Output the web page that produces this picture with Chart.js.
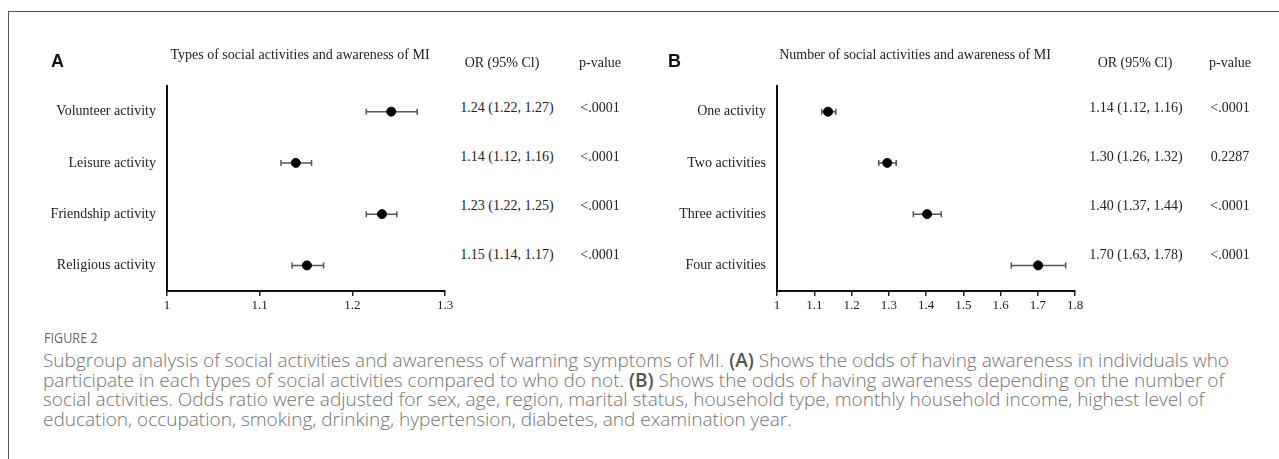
<!DOCTYPE html>
<html>
<head>
<meta charset="utf-8">
<script src="https://cdn.jsdelivr.net/npm/chart.js@4"></script>
<style>
  body { margin: 0; background: #fff; width: 1279px; height: 459px; overflow: hidden; position: relative; }
  .frame { position: absolute; left: 8px; top: 11px; width: 1300px; height: 500px;
           border-top: 1.5px solid #555; border-left: 1.5px solid #555; }
  canvas { position: absolute; }
  .txt { position: absolute; font-family: "Liberation Serif", "Times New Roman", serif; font-size: 14px;
         color: #222; white-space: nowrap; transform: translate(-50%, -50%); }
  .panel { position: absolute; font-family: "Liberation Sans", Arial, sans-serif; font-weight: bold;
           font-size: 18px; color: #111; transform: translateY(-50%); }
  .figlab { position: absolute; left: 44px; top: 328px; font-family: "Open Sans", sans-serif; font-size: 14px;
            color: #666; transform: scaleX(0.9); transform-origin: left; }
  .caption { position: absolute; left: 43px; top: 351px; font-family: "Open Sans", sans-serif; font-size: 19px;
             font-weight: 300; line-height: 19.5px; color: #737373; white-space: nowrap; }
  .caption b { color: #555; font-weight: 600; }
</style>
</head>
<body>
<div class="frame"></div>
<canvas id="chartA"></canvas>
<canvas id="chartB"></canvas>
<div id="texts"></div>
<div class="figlab">FIGURE 2</div>
<div class="caption">Subgroup analysis of social activities and awareness of warning symptoms of MI. <b>(A)</b> Shows the odds of having awareness in individuals who<br>participate in each types of social activities compared to who do not. <b>(B)</b> Shows the odds of having awareness depending on the number of<br>social activities. Odds ratio were adjusted for sex, age, region, marital status, household type, monthly household income, highest level of<br>education, occupation, smoking, drinking, hypertension, diabetes, and examination year.</div>
<script>
// panel A data
var labelsA = ["Volunteer activity", "Leisure activity", "Friendship activity", "Religious activity"];
var orA = [1.242, 1.139, 1.232, 1.151];
var lowA = [1.215, 1.123, 1.215, 1.135];
var highA = [1.270, 1.156, 1.248, 1.169];
var orTextA = ["1.24 (1.22, 1.27)", "1.14 (1.12, 1.16)", "1.23 (1.22, 1.25)", "1.15 (1.14, 1.17)"];
var pTextA = ["<.0001", "<.0001", "<.0001", "<.0001"];
var ticksA = [1, 1.3];

// panel B data
var labelsB = ["One activity", "Two activities", "Three activities", "Four activities"];
var orB = [1.137, 1.296, 1.403, 1.701];
var lowB = [1.120, 1.273, 1.366, 1.629];
var highB = [1.158, 1.320, 1.441, 1.775];
var orTextB = ["1.14 (1.12, 1.16)", "1.30 (1.26, 1.32)", "1.40 (1.37, 1.44)", "1.70 (1.63, 1.78)"];
var pTextB = ["<.0001", "0.2287", "<.0001", "<.0001"];
var ticksB = [1, 1.8];

var serif = "'Liberation Serif', 'Times New Roman', serif";
var textRows = [108, 157, 206, 255];

var errorBars = {
  id: 'errorBars',
  beforeDatasetsDraw: function(chart, args, opts) {
    var c = chart.ctx, xs = chart.scales.x, ys = chart.scales.y;
    c.save();
    c.strokeStyle = '#555';
    c.lineWidth = 1.5;
    for (var i = 0; i < opts.low.length; i++) {
      var y = ys.getPixelForValue(i);
      var x1 = xs.getPixelForValue(opts.low[i]);
      var x2 = xs.getPixelForValue(opts.high[i]);
      c.beginPath();
      c.moveTo(x1, y); c.lineTo(x2, y);
      c.moveTo(x1, y - 3); c.lineTo(x1, y + 3);
      c.moveTo(x2, y - 3); c.lineTo(x2, y + 3);
      c.stroke();
    }
    c.restore();
  }
};

function makeForest(id, left, width, labels, or, low, high, range) {
  var cv = document.getElementById(id);
  cv.style.left = left + 'px';
  cv.style.top = '0px';
  cv.width = width;
  cv.height = 330;
  var pts = [];
  for (var i = 0; i < or.length; i++) pts.push({x: or[i], y: labels[i]});
  return new Chart(cv, {
    type: 'scatter',
    data: {
      labels: labels,
      datasets: [{
        data: pts,
        backgroundColor: '#000',
        borderColor: '#000',
        pointRadius: 4.5,
        pointHoverRadius: 4.5
      }]
    },
    options: {
      responsive: false,
      animation: false,
      events: [],
      layout: { padding: { top: 86, left: 0, right: 15, bottom: 0 } },
      plugins: {
        legend: { display: false },
        tooltip: { enabled: false },
        errorBars: { low: low, high: high }
      },
      scales: {
        x: {
          type: 'linear',
          min: range[0],
          max: range[1],
          ticks: {
            stepSize: 0.1, color: '#222', padding: 2, font: { family: serif, size: 13 },
            callback: function(v) { return String(Math.round(v * 10) / 10); }
          },
          grid: { drawOnChartArea: false, drawTicks: true, tickLength: 5, color: '#222', lineWidth: 1.5 },
          border: { color: '#111', width: 2 },
          afterFit: function(s) { s.height = 39; }
        },
        y: {
          type: 'category',
          labels: labels,
          offset: true,
          ticks: { color: '#222', padding: 11, font: { family: serif, size: 14 } },
          grid: { display: false, drawTicks: false },
          border: { color: '#111', width: 2 },
          afterFit: function(s) { s.width = 167; }
        }
      }
    },
    plugins: [errorBars]
  });
}

function addText(x, y, str, cls) {
  var d = document.createElement('div');
  d.className = cls || 'txt';
  d.style.left = x + 'px';
  d.style.top = y + 'px';
  d.textContent = str;
  document.getElementById('texts').appendChild(d);
}

makeForest('chartA', 0, 460, labelsA, orA, lowA, highA, ticksA);
makeForest('chartB', 610, 480, labelsB, orB, lowB, highB, ticksB);

// headers
addText(51, 61, 'A', 'panel');
addText(300, 55, 'Types of social activities and awareness of MI');
addText(502, 63, 'OR (95% Cl)');
addText(600, 63, 'p-value');
addText(668, 61, 'B', 'panel');
addText(915, 55, 'Number of social activities and awareness of MI');
addText(1135, 63, 'OR (95% Cl)');
addText(1230, 63, 'p-value');

for (var i = 0; i < orTextA.length; i++) {
  addText(507, textRows[i], orTextA[i]);
  addText(600, textRows[i], pTextA[i]);
  addText(1136, textRows[i], orTextB[i]);
  addText(1230, textRows[i], pTextB[i]);
}
</script>
</body>
</html>
